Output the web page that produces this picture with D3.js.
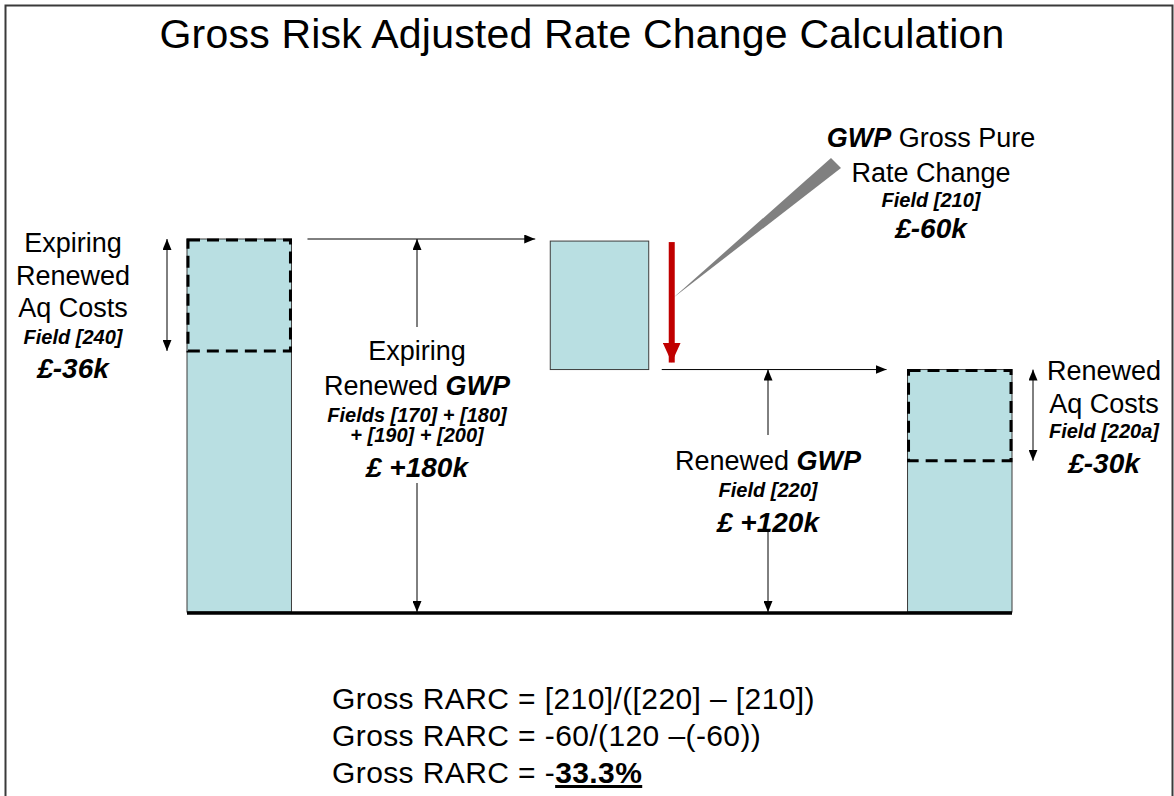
<!DOCTYPE html>
<html>
<head>
<meta charset="utf-8">
<script src="https://cdn.jsdelivr.net/npm/d3@7"></script>
<style>
  body { margin: 0; background: #fff; }
  svg { display: block; font-family: "Liberation Sans", Arial, sans-serif; }
</style>
</head>
<body>
<div id="chart"></div>
<script>
// Stages of the walk from expiring to renewed premium
const stages = ["Expiring", "Rate change", "Renewed"];
// level (in £k) at the top and bottom of each block, as drawn
const barTop = [180, 179, 117];
const barBase = [0, 117, 0];
// drawn depth of the dashed acquisition cost box inside each block
const acqCost = [54, 0, 44];

// Annotation texts: each line is a list of [text, bold italic?]
const expAcqLabel = [
    [["Expiring", false]], [["Renewed", false]], [["Aq Costs", false]],
    [["Field [240]", true]], [["£-36k", true]]
];
const expGwpLabel = [
    [["Expiring", false]], [["Renewed ", false], ["GWP", true]],
    [["Fields [170] + [180]", true]], [["+ [190] + [200]", true]], [["£ +180k", true]]
];
const rateLabel = [
    [["GWP", true], [" Gross Pure", false]], [["Rate Change", false]],
    [["Field [210]", true]], [["£-60k", true]]
];
const renGwpLabel = [
    [["Renewed ", false], ["GWP", true]], [["Field [220]", true]], [["£ +120k", true]]
];
const renAcqLabel = [
    [["Renewed", false]], [["Aq Costs", false]], [["Field [220a]", true]], [["£-30k", true]]
];
const formulaLines = [
    [["Gross RARC = [210]/([220] \u2013 [210])", false]],
    [["Gross RARC = -60/(120 \u2013(-60))", false]],
    [["Gross RARC = -", false], ["33.3%", "u"]]
];

const W = 1174, H = 796;
const svg = d3.select("#chart").append("svg")
    .attr("width", W).attr("height", H);

// frame
svg.append("rect")
    .attr("x", 5.5).attr("y", 5.5)
    .attr("width", 1167).attr("height", 820)
    .attr("fill", "none").attr("stroke", "#3a3a3a").attr("stroke-width", 2);

// title
svg.append("text")
    .attr("x", 582).attr("y", 48)
    .attr("text-anchor", "middle")
    .attr("font-size", 41)
    .attr("letter-spacing", 0.2)
    .text("Gross Risk Adjusted Rate Change Calculation");

// scales
const x = d3.scaleBand()
    .domain(stages)
    .range([187, 1012])
    .paddingInner(0.71);
const bw = x.bandwidth();

const y = d3.scaleLinear()
    .domain([0, 180])
    .range([612, 239]);

// the middle block is drawn a little narrower
const inset = i => (i === 1 ? 3 : 0);

// arrow markers
const defs = svg.append("defs");
function marker(id, w, l, color) {
    defs.append("marker")
        .attr("id", id)
        .attr("markerUnits", "userSpaceOnUse")
        .attr("viewBox", `0 ${-w / 2} ${l} ${w}`)
        .attr("refX", l).attr("refY", 0)
        .attr("markerWidth", l).attr("markerHeight", w)
        .attr("orient", "auto-start-reverse")
        .append("path")
        .attr("d", `M0,${-w / 2}L${l},0L0,${w / 2}Z`)
        .attr("fill", color);
}
marker("head", 9, 11, "#000");
marker("redHead", 18, 20, "#c00000");

function arrow(x1, y1, x2, y2, start, end) {
    const p = svg.append("line")
        .attr("x1", x1).attr("y1", y1)
        .attr("x2", x2).attr("y2", y2)
        .attr("stroke", "#000").attr("stroke-width", 1);
    if (start) p.attr("marker-start", "url(#head)");
    if (end) p.attr("marker-end", "url(#head)");
    return p;
}

// blocks
svg.append("g")
    .selectAll("rect")
    .data(stages)
    .join("rect")
    .attr("x", (d, i) => x(d) + inset(i))
    .attr("y", (d, i) => y(barTop[i]))
    .attr("width", (d, i) => bw - 2 * inset(i))
    .attr("height", (d, i) => y(barBase[i]) - y(barTop[i]))
    .attr("fill", "#b9dfe2")
    .attr("stroke", "#3c3c3c")
    .attr("stroke-width", 1);

// dashed acquisition cost boxes
svg.append("g")
    .selectAll("rect")
    .data(stages.filter((d, i) => acqCost[i] > 0))
    .join("rect")
    .attr("x", d => x(d) + 1)
    .attr("y", d => y(barTop[stages.indexOf(d)]) + 1)
    .attr("width", bw - 2)
    .attr("height", d => {
        const i = stages.indexOf(d);
        return y(barTop[i] - acqCost[i]) - y(barTop[i]) - 1;
    })
    .attr("fill", "none")
    .attr("stroke", "#000")
    .attr("stroke-width", 3)
    .attr("stroke-dasharray", "12,7");

// base line
svg.append("line")
    .attr("x1", x.range()[0]).attr("x2", x.range()[1])
    .attr("y1", y(0) + 1).attr("y2", y(0) + 1)
    .attr("stroke", "#000").attr("stroke-width", 3.5);

const x0 = x(stages[0]), x1 = x(stages[1]), x2 = x(stages[2]);

// expiring acquisition cost span
arrow(x0 - 20, y(barTop[0]), x0 - 20, y(barTop[0] - acqCost[0]), true, true);

// carry over from expiring to rate change block
arrow(x0 + bw + 16, y(barTop[0]), x1 - 12, y(barTop[0]), false, true);

// expiring GWP span
const midA = 417;
arrow(midA, y(barTop[0]), midA, 327, true, false);
arrow(midA, 483, midA, y(0), false, true);

// callout wedge for the rate change label
svg.append("polygon")
    .attr("points", [[673, 298], [831, 158], [841, 168]].map(p => p.join(",")).join(" "))
    .attr("fill", "#808080");

// red rate change arrow
svg.append("line")
    .attr("x1", x1 + bw + 20).attr("x2", x1 + bw + 20)
    .attr("y1", y(barTop[1]) + 1).attr("y2", y(barBase[1]) - 7)
    .attr("stroke", "#c00000").attr("stroke-width", 6)
    .attr("marker-end", "url(#redHead)");

// carry over from rate change to renewed block
arrow(x1 + bw + 10, y(barTop[2]), x2 - 21, y(barTop[2]), false, true);

// renewed GWP span
const midB = 768;
arrow(midB, y(barTop[2]), midB, 435, true, false);
arrow(midB, 531, midB, y(0), false, true);

// renewed acquisition cost span
arrow(x2 + bw + 21, y(barTop[2]), x2 + bw + 21, y(barTop[2] - acqCost[2]), true, true);

// text blocks
function block(lines, cx, baselines, sizes, anchor, spacing) {
    const g = svg.append("g");
    lines.forEach((parts, i) => {
        const t = g.append("text")
            .attr("x", cx).attr("y", baselines[i])
            .attr("text-anchor", anchor || "middle")
            .attr("font-size", sizes[i])
            .attr("letter-spacing", spacing || 0);
        parts.forEach(([s, style]) => {
            const sp = t.append("tspan").text(s);
            if (style === true) sp.attr("font-weight", "bold").attr("font-style", "italic");
            if (style === "u") sp.attr("font-weight", "bold").attr("text-decoration", "underline");
        });
    });
}

block(expAcqLabel, 73, [252, 285, 317, 344, 378], [27, 27, 27, 20, 28]);
block(expGwpLabel, 417, [360, 395, 422, 442, 477], [27, 27, 20, 20, 28]);
block(rateLabel, 931, [147, 182, 207, 238], [27, 27, 20, 28]);
block(renGwpLabel, 768, [470, 497, 532], [27, 20, 28]);
block(renAcqLabel, 1104, [380, 413, 438, 473], [27, 27, 20, 28]);
block(formulaLines, 332, [709, 746, 783], [30, 30, 30], "start", 0.4);
</script>
</body>
</html>
